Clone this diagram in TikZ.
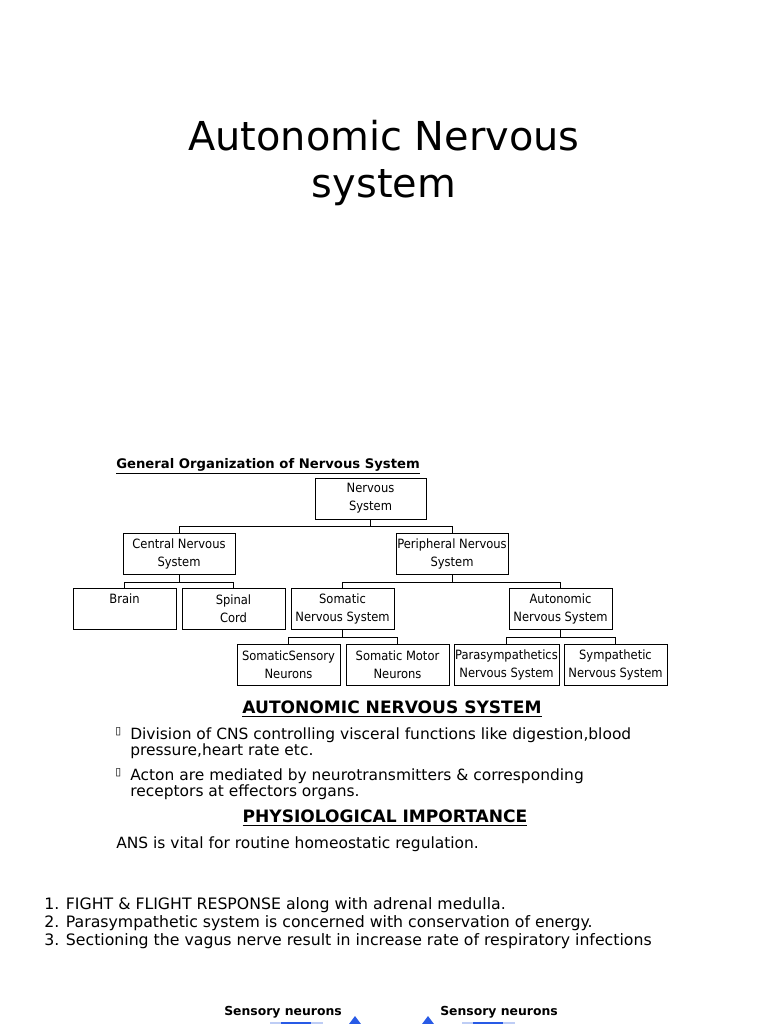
\documentclass[tikz,border=0pt]{standalone}
\usepackage{fontspec}
\setmainfont{DejaVu Sans}
\newfontfamily\narrowfont{DejaVu Sans Condensed}
\usetikzlibrary{positioning}
\definecolor{triblue}{RGB}{40,90,230}
\definecolor{barblue}{RGB}{190,205,245}

\tikzset{
  orgbox/.style={draw, line width=0.5pt, minimum width=77pt, minimum height=31pt,
    inner sep=1pt, align=center, font=\narrowfont\fontsize{9.6}{13.5}\selectfont},
  orgline/.style={line width=0.5pt},
  body/.style={anchor=north west, inner sep=0pt, align=left,
    font=\fontsize{11.6}{12.6}\selectfont},
  head/.style={inner sep=0pt, font=\bfseries\fontsize{12.8}{14}\selectfont}
}

\begin{document}
\begin{tikzpicture}[x=0.75pt,y=-0.75pt]
\useasboundingbox (0,0) rectangle (768,1024);
\fill[white] (0,0) rectangle (768,1024);

% title
\node[align=center, font=\fontsize{29.9}{35}\selectfont] (title) at (384,163) {Autonomic Nervous\\system};

% organization chart
\node[anchor=west, inner sep=0pt, font=\bfseries\fontsize{9.9}{11}\selectfont] (chart) at (116,466)
  {\underline{General Organization of Nervous System}};

\node[orgbox, minimum width=83pt] (ns)  at (370.5,498.5) {Nervous\\System};
\node[orgbox, minimum width=84pt] (cns) at (179,554) {Central Nervous\\System};
\node[orgbox, minimum width=82pt] (pns) at (452,554) {Peripheral Nervous\\System};
\node[orgbox] (brain)  at (124.5,609) {Brain\\\phantom{Xg}};
\node[orgbox] (spinal) at (233.5,609) {Spinal\\Cord};
\node[orgbox] (som)    at (342.5,609) {Somatic\\Nervous System};
\node[orgbox] (auto)   at (560.5,609) {Autonomic\\Nervous System};
\node[orgbox] (sens)   at (288.5,665) {SomaticSensory\\Neurons};
\node[orgbox] (motor)  at (397.5,665) {Somatic Motor\\Neurons};
\node[orgbox] (para)   at (506.5,665) {Parasympathetics\\Nervous System};
\node[orgbox] (symp)   at (615.5,665) {Sympathetic\\Nervous System};

% tree connectors
\draw[orgline] (ns.south) -- ++(0,7) -| (cns.north);
\draw[orgline] (ns.south) -- ++(0,7) -| (pns.north);
\draw[orgline] (cns.south) -- ++(0,7) -| (brain.north);
\draw[orgline] (cns.south) -- ++(0,7) -| (spinal.north);
\draw[orgline] (pns.south) -- ++(0,7) -| (som.north);
\draw[orgline] (pns.south) -- ++(0,7) -| (auto.north);
\draw[orgline] (som.south) -- ++(0,7) -| (sens.north);
\draw[orgline] (som.south) -- ++(0,7) -| (motor.north);
\draw[orgline] (auto.south) -- ++(0,7) -| (para.north);
\draw[orgline] (auto.south) -- ++(0,7) -| (symp.north);

% text
\node[head] (anshead) at (392,709) {\underline{AUTONOMIC NERVOUS SYSTEM}};
\node[body, font=\fontsize{8}{9}\selectfont] (b1) at (115,727) {▯};
\node[body] (t1) at (130,727) {Division of CNS controlling visceral functions like digestion,blood\\pressure,heart rate etc.};
\node[body, font=\fontsize{8}{9}\selectfont] (b2) at (115,768) {▯};
\node[body] (t2) at (130,768) {Acton are mediated by neurotransmitters \& corresponding\\receptors at effectors organs.};
\node[head] (phys) at (385,818) {\underline{PHYSIOLOGICAL IMPORTANCE}};
\node[body] (ans) at (116,836) {ANS is vital for routine homeostatic regulation.};
\node[body, font=\fontsize{11.8}{13.5}\selectfont] (list) at (44,897) {1. FIGHT \& FLIGHT RESPONSE along with adrenal medulla.\\2. Parasympathetic system is concerned with conservation of energy.\\3. Sectioning the vagus nerve result in increase rate of respiratory infections};

% cut-off figure at the bottom
\node[inner sep=0pt, font=\bfseries\fontsize{9.3}{10}\selectfont] (sl) at (283,1012) {Sensory neurons};
\node[inner sep=0pt, font=\bfseries\fontsize{9.3}{10}\selectfont] (sr) at (499,1012) {Sensory neurons};
\fill[triblue] (349,1024) -- (355,1016) -- (361,1024) -- cycle;
\fill[triblue] (422,1024) -- (428,1016) -- (434,1024) -- cycle;
\fill[barblue] (270,1022) rectangle (323,1024);
\fill[triblue] (281,1022) rectangle (311,1024);
\fill[barblue] (462,1022) rectangle (515,1024);
\fill[triblue] (473,1022) rectangle (503,1024);
\end{tikzpicture}
\end{document}
